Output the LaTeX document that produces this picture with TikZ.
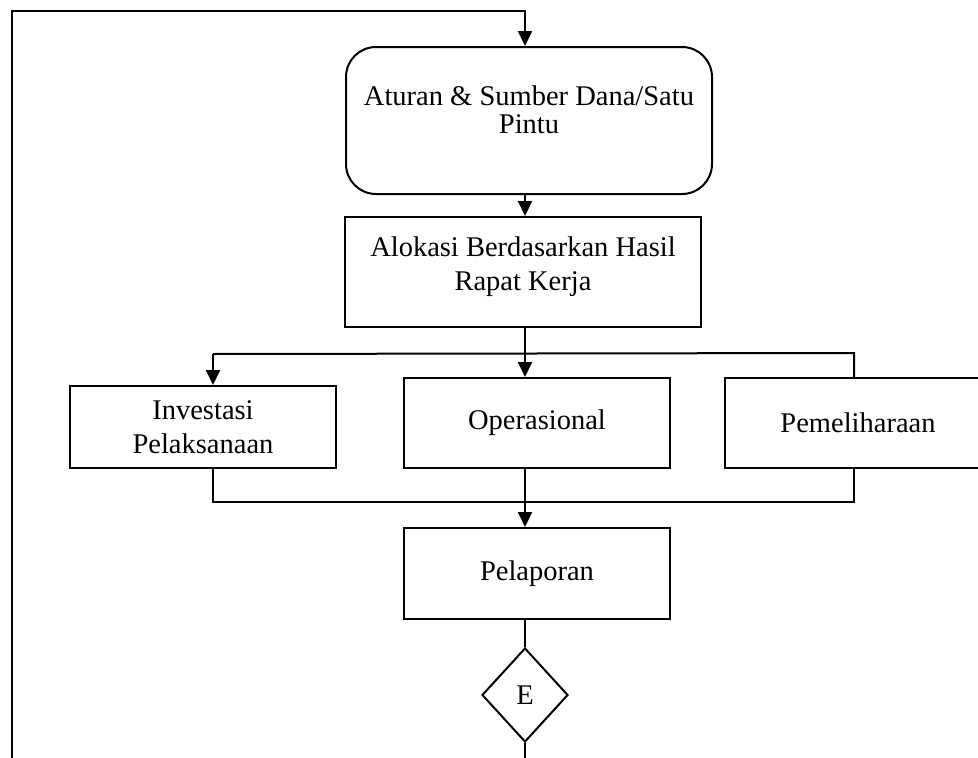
\documentclass[tikz,border=0pt]{standalone}
\usepackage{fontspec}
\setmainfont{Liberation Serif}
\usetikzlibrary{arrows.meta,shapes.geometric}
\begin{document}
\begin{tikzpicture}[x=1pt,y=-1pt,
  every node/.style={font=\fontsize{28.5}{34}\selectfont},
  line/.style={line width=2pt},
  arr/.style={line width=2pt,-{Triangle[length=15pt,width=14pt]}},
  flowbox/.style={draw,line width=2pt,rectangle,inner sep=0pt,anchor=north west,align=center},
  roundbox/.style={flowbox,rounded corners=30pt}]
\useasboundingbox (0,0) rectangle (978,758);
\node[roundbox,minimum width=366pt,minimum height=147pt,
  label={[anchor=north,align=center,yshift=-36pt,font=\fontsize{28.5}{28}\selectfont]north:Aturan \& Sumber Dana/Satu\\Pintu}] (aturan) at (345,46) {};
\node[flowbox,minimum width=356pt,minimum height=110pt,
  label={[anchor=north,align=center,yshift=-17pt]north:Alokasi Berdasarkan Hasil\\Rapat Kerja}] (alokasi) at (344,216) {};
\node[flowbox,minimum width=266pt,minimum height=82pt] (invest) at (69,385) {Investasi\\Pelaksanaan};
\node[flowbox,minimum width=266pt,minimum height=90pt] (oper) at (403,377) {Operasional};
\node[flowbox,minimum width=266pt,minimum height=90pt] (pemel) at (724,377) {Pemeliharaan};
\node[flowbox,minimum width=266pt,minimum height=91pt] (pelap) at (403,527) {Pelaporan};
\node[draw,line width=2pt,diamond,inner sep=0pt,minimum width=86pt,minimum height=94pt] (E) at (525,695) {E};
\coordinate (bl) at (213,354);
\coordinate (br) at (854,353);
\coordinate (ml) at (213,502);
\coordinate (mr) at (854,502);
\coordinate (loopTop) at (12,11);
\coordinate (loopBot) at (12,800);
% loop
\draw[arr] (E.south) |- (loopBot) -- (loopTop) -| (aturan.north -| E.south);
\draw[arr] (aturan.south -| E.south) -- (alokasi.north -| E.south);
\draw[arr] (alokasi.south -| E.south) -- (oper.north -| E.south);
\draw[arr] (bl) -- (invest.north -| bl);
\draw[line] (bl) -- (br) -- (pemel.north -| br);
\draw[line] (invest.south -| ml) -- (ml) -- (mr) -- (pemel.south -| mr);
\draw[arr] (oper.south -| E.south) -- (pelap.north -| E.south);
\draw[line] (pelap.south -| E.south) -- (E.north);
\end{tikzpicture}
\end{document}
